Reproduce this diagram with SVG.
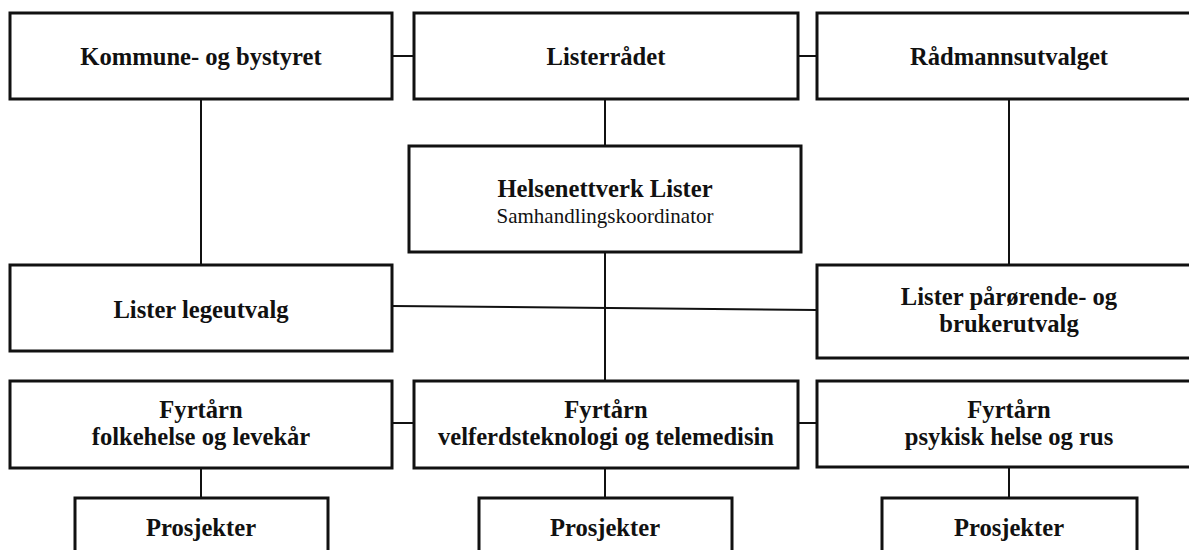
<svg xmlns="http://www.w3.org/2000/svg" width="1189" height="550" viewBox="0 0 1189 550">
<style>
.box{fill:#fff;stroke:#111;stroke-width:3}
.ln{stroke:#111;stroke-width:2;fill:none}
.t{font-family:"Liberation Serif","Times New Roman",serif;font-weight:bold;font-size:24.6px;fill:#111;text-anchor:middle}
.s{font-family:"Liberation Serif","Times New Roman",serif;font-size:21px;fill:#111;text-anchor:middle}
</style>
<rect width="1189" height="550" fill="#fff"/>
<g id="connectors">
<line class="ln" x1="392" y1="56" x2="414" y2="56"/>
<line class="ln" x1="798" y1="56" x2="817" y2="56"/>
<line class="ln" x1="605" y1="99" x2="605" y2="146"/>
<line class="ln" x1="201" y1="99" x2="201" y2="265"/>
<line class="ln" x1="1009" y1="99" x2="1009" y2="265"/>
<line class="ln" x1="605" y1="252" x2="605" y2="381"/>
<line class="ln" x1="392" y1="306" x2="817" y2="310"/>
<line class="ln" x1="392" y1="423" x2="414" y2="423"/>
<line class="ln" x1="798" y1="423" x2="817" y2="423"/>
<line class="ln" x1="201" y1="468" x2="201" y2="498"/>
<line class="ln" x1="605" y1="468" x2="605" y2="498"/>
<line class="ln" x1="1009" y1="468" x2="1009" y2="498"/>
</g>
<g id="kommune">
<rect class="box" x="10" y="13" width="382" height="86"/>
<text class="t" x="201" y="65">Kommune- og bystyret</text>
</g>
<g id="listerradet">
<rect class="box" x="414" y="13" width="384" height="86"/>
<text class="t" x="606" y="65">Listerrådet</text>
</g>
<g id="radmann">
<rect class="box" x="817" y="13" width="384" height="86"/>
<text class="t" x="1009" y="65">Rådmannsutvalget</text>
</g>
<g id="helsenettverk">
<rect class="box" x="409" y="146" width="392" height="106"/>
<text class="t" x="605" y="197">Helsenettverk Lister</text>
<text class="s" x="605" y="223">Samhandlingskoordinator</text>
</g>
<g id="legeutvalg">
<rect class="box" x="10" y="265" width="382" height="86"/>
<text class="t" x="201" y="318">Lister legeutvalg</text>
</g>
<g id="parorende">
<rect class="box" x="817" y="265" width="384" height="93"/>
<text class="t" x="1009" y="305">Lister pårørende- og</text>
<text class="t" x="1009" y="332">brukerutvalg</text>
</g>
<g id="fyrtarn1">
<rect class="box" x="10" y="381" width="382" height="87"/>
<text class="t" x="201" y="418">Fyrtårn</text>
<text class="t" x="201" y="445">folkehelse og levekår</text>
</g>
<g id="fyrtarn2">
<rect class="box" x="414" y="381" width="384" height="87"/>
<text class="t" x="606" y="418">Fyrtårn</text>
<text class="t" x="606" y="445">velferdsteknologi og telemedisin</text>
</g>
<g id="fyrtarn3">
<rect class="box" x="817" y="381" width="384" height="86"/>
<text class="t" x="1009" y="418">Fyrtårn</text>
<text class="t" x="1009" y="445">psykisk helse og rus</text>
</g>
<g id="prosjekter1">
<rect class="box" x="75" y="498" width="253" height="70"/>
<text class="t" x="201" y="536">Prosjekter</text>
</g>
<g id="prosjekter2">
<rect class="box" x="479" y="498" width="253" height="70"/>
<text class="t" x="605" y="536">Prosjekter</text>
</g>
<g id="prosjekter3">
<rect class="box" x="882" y="498" width="255" height="70"/>
<text class="t" x="1009" y="536">Prosjekter</text>
</g>
</svg>
